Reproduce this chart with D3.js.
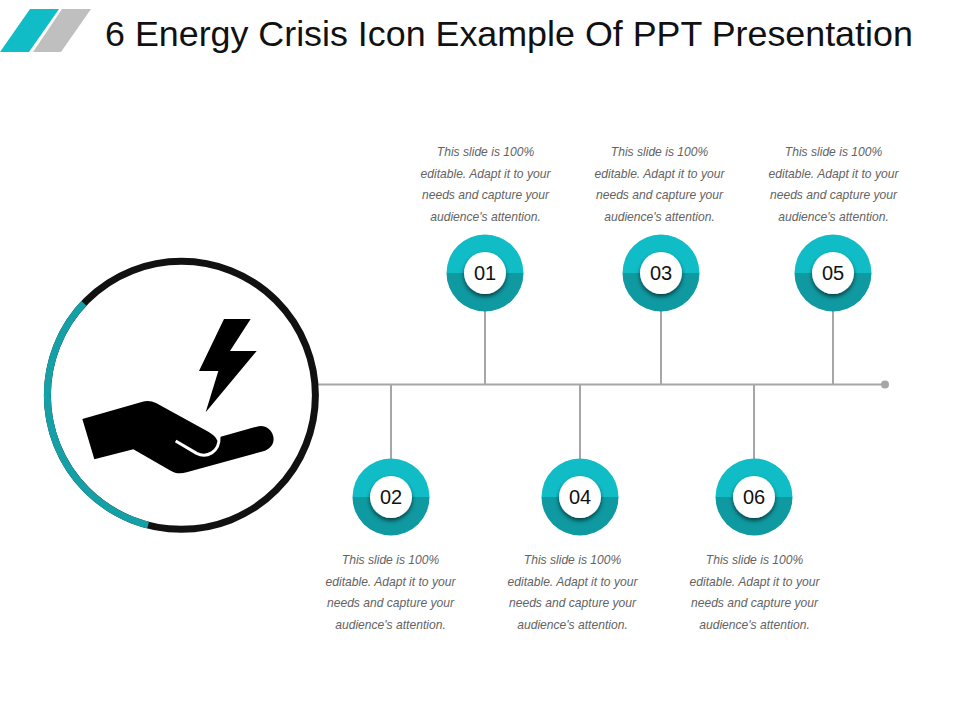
<!DOCTYPE html>
<html><head><meta charset="utf-8"><script src="https://cdn.jsdelivr.net/npm/d3@7"></script>
<style>html,body{margin:0;background:#fff}svg{display:block}text{font-family:"Liberation Sans",Arial,sans-serif}</style></head>
<body><svg id="c" width="960" height="720" viewBox="0 0 960 720"></svg>
<script>
const titleText = "6 Energy Crisis Icon Example Of PPT Presentation";
const nodeLabels = ["01","02","03","04","05","06"];
const nodeAt = [485,391,661,580,833,754];
const captionAt = [485.5,390.5,659.5,572.5,833.5,754.5];
const nodeSide = ["top","bottom","top","bottom","top","bottom"];
const captionLines = ["This slide is 100%","editable. Adapt it to your","needs and capture your","audience's attention."];

const svg = d3.select("#c");
const x = d3.scaleLinear().domain([0,960]).range([0,960]);
const axisY = 384.5;

const defs = svg.append("defs");
const f = defs.append("filter").attr("id","sh").attr("x","-40%").attr("y","-40%").attr("width","180%").attr("height","180%");
f.append("feDropShadow").attr("dx",0).attr("dy",2.5).attr("stdDeviation",2).attr("flood-color","#000").attr("flood-opacity",.6);

// header
svg.append("path").attr("d","M30,9H59L29,52H0Z").attr("fill","#10bdc6");
svg.append("path").attr("d","M62,9H91L61,52H33Z").attr("fill","#bfbfbf");
svg.append("text").attr("x",105).attr("y",46).attr("font-size",35.85).attr("fill","#111").text(titleText);

// timeline
svg.append("line").attr("x1",318).attr("x2",x(885)).attr("y1",axisY).attr("y2",axisY).attr("stroke","#a6a6a6").attr("stroke-width",2);
svg.append("circle").attr("cx",x(885)).attr("cy",axisY).attr("r",4).attr("fill","#a6a6a6");

// big ring
const ring = svg.append("g").attr("transform","translate(181.4,395.3)");
ring.append("circle").attr("r",134).attr("fill","#fff").attr("stroke","#111").attr("stroke-width",7);
const rad = d => d*Math.PI/180;
ring.append("path").attr("d",d3.arc().innerRadius(130.5).outerRadius(137.5).startAngle(rad(-165.6)).endAngle(rad(-46.7))()).attr("fill","#14a0a6");

// icon
const icon = svg.append("g").attr("transform","translate(0,240) scale(0.33333)");
icon.append("path").attr("d","M672,237H752L690,333H770L617,517L655,393H597Z").attr("fill","#000");
icon.append("path").attr("d","M247,537L425,486Q447,479 468,489L625,575C640,584 648,592 652,602L662,590L770,560C795,553 815,568 820,590C824,610 812,625 795,632L560,697C540,702 525,700 512,692L400,628L283,658Z").attr("fill","#000");
icon.append("path").attr("d","M527,603L590,640C618,655 660,638 657,590").attr("fill","none").attr("stroke","#fff").attr("stroke-width",9);

// nodes
const nodes = svg.selectAll("g.node").data(nodeLabels).join("g").attr("class","node");
nodes.each(function(d,i){
  const g = d3.select(this), top = nodeSide[i]==="top";
  const cx = x(nodeAt[i]), cy = top ? 273 : 497;
  g.append("line").attr("x1",cx).attr("x2",cx).attr("y1",axisY).attr("y2",cy).attr("stroke","#a6a6a6").attr("stroke-width",2);
  const half = (a,b,c) => g.append("path").attr("transform",`translate(${cx},${cy})`).attr("d",d3.arc().innerRadius(0).outerRadius(38.5).startAngle(rad(a)).endAngle(rad(b))()).attr("fill",c);
  half(-90,90,"#10bdc6"); half(90,270,"#0f99a1");
  g.append("circle").attr("cx",cx).attr("cy",cy).attr("r",21).attr("fill","#fff").attr("filter","url(#sh)");
  g.append("text").attr("x",cx).attr("y",cy+7).attr("text-anchor","middle").attr("font-size",20).attr("fill","#111").text(d);
  const y0 = top ? 156 : 564;
  captionLines.forEach((t,k)=>{
    g.append("text").attr("x",x(captionAt[i])).attr("y",y0+k*21.6).attr("text-anchor","middle")
     .attr("font-size",12.1).attr("font-style","italic").attr("fill","#636363").text(t);
  });
});
</script></body></html>
